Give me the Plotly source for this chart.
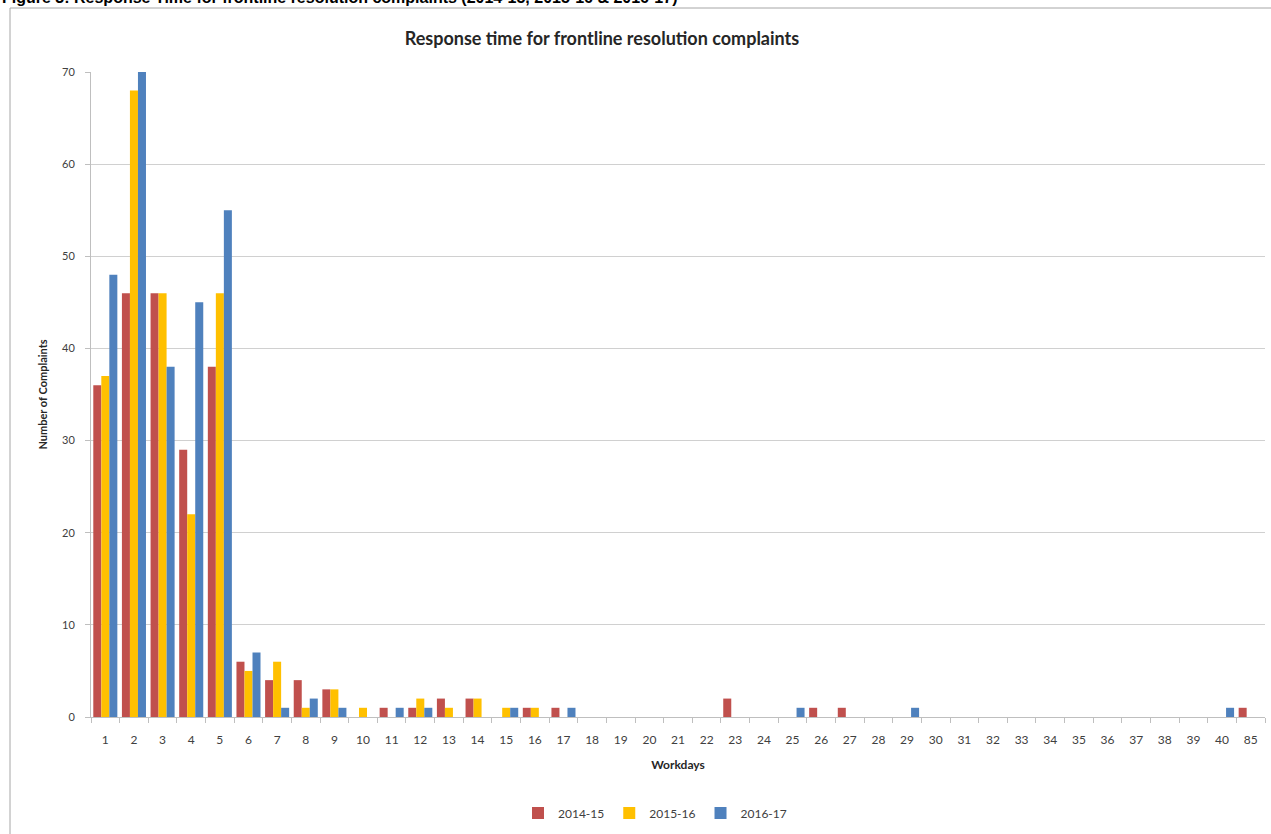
import plotly.graph_objects as go

categories = [str(i) for i in range(1, 41)] + ["85"]

y2014_15 = [36, 46, 46, 29, 38, 6, 4, 4, 3, 0,
            1, 1, 2, 2, 0, 1, 1, 0, 0, 0,
            0, 0, 2, 0, 0, 1, 1, 0, 0, 0,
            0, 0, 0, 0, 0, 0, 0, 0, 0, 0, 1]
y2015_16 = [37, 68, 46, 22, 46, 5, 6, 1, 3, 1,
            0, 2, 1, 2, 1, 1, 0, 0, 0, 0,
            0, 0, 0, 0, 0, 0, 0, 0, 0, 0,
            0, 0, 0, 0, 0, 0, 0, 0, 0, 0, 0]
y2016_17 = [48, 70, 38, 45, 55, 7, 1, 2, 1, 0,
            1, 1, 0, 0, 1, 0, 1, 0, 0, 0,
            0, 0, 0, 0, 1, 0, 0, 0, 1, 0,
            0, 0, 0, 0, 0, 0, 0, 0, 0, 1, 0]

series = [("2014-15", y2014_15, "#C0504D"),
          ("2015-16", y2015_16, "#FFC000"),
          ("2016-17", y2016_17, "#4F81BD")]

fig = go.Figure()
for name, vals, col in series:
    fig.add_trace(go.Bar(x=categories, y=vals, name=name, marker_color=col,
                         marker_line_width=0))

W, H = 1271, 834
L, R, T, B = 91, 6, 72, 117
pw, ph = W - L - R, H - T - B

def px_x(p):
    return (p - L) / pw

def px_y(p):
    return (H - B - p) / ph

fig.update_layout(
    width=W, height=H,
    margin=dict(l=L, r=R, t=T, b=B),
    paper_bgcolor="white", plot_bgcolor="white",
    barmode="group", bargap=0.16, bargroupgap=0,
    font=dict(family="Lato, Open Sans, Arial", color="#404040"),
    title=dict(text="<b>Response time for frontline resolution complaints</b>",
               x=px_x(647), xanchor="center", y=1 - 39 / H, yanchor="middle",
               font=dict(size=18, color="#262626", family="Lato, Open Sans, Arial")),
    showlegend=True,
    legend=dict(orientation="h", x=px_x(655), xanchor="center",
                y=px_y(813), yanchor="middle",
                font=dict(size=12, color="#404040"),
                itemwidth=30, traceorder="normal"),
    xaxis=dict(type="category", showgrid=False, showline=True, linecolor="#BFBFBF",
               linewidth=1, ticks="outside", tickson="boundaries", ticklen=5,
               tickcolor="#BFBFBF", tickfont=dict(size=12, color="#404040"),
               ticklabelstandoff=12,
               title=dict(text="<b>Workdays</b>", font=dict(size=12, color="#262626"),
                          standoff=14),
               fixedrange=True),
    yaxis=dict(range=[0, 70], dtick=10, showgrid=True, gridcolor="#D0D0D0",
               gridwidth=1, showline=True, linecolor="#BFBFBF", linewidth=1,
               ticks="outside", ticklen=5, tickcolor="#BFBFBF",
               ticklabelstandoff=8,
               tickfont=dict(size=11, color="#404040"), zeroline=False,
               title=dict(text="<b>Number of Complaints</b>",
                          font=dict(size=11, color="#262626"), standoff=12),
               fixedrange=True),
)

# outer chart frame
fig.add_shape(type="line", xref="paper", yref="paper",
              x0=px_x(10), x1=px_x(W), y0=px_y(8), y1=px_y(8),
              line=dict(color="#A6A6A6", width=1))
fig.add_shape(type="line", xref="paper", yref="paper",
              x0=px_x(10), x1=px_x(10), y0=px_y(8), y1=px_y(H),
              line=dict(color="#A6A6A6", width=1))

# cut-off figure caption at the very top
fig.add_annotation(text="<b>Figure 3: Response Time for frontline resolution complaints (2014-15, 2015-16 &amp; 2016-17)</b>",
                   xref="paper", yref="paper", x=px_x(0), y=px_y(-3),
                   xanchor="left", yanchor="middle", showarrow=False,
                   font=dict(size=16, color="black", family="Arial, Liberation Sans"))

fig.write_html("out.html", config={"displayModeBar": False},
               post_script="document.body.style.margin='0';document.body.style.overflow='hidden';")
